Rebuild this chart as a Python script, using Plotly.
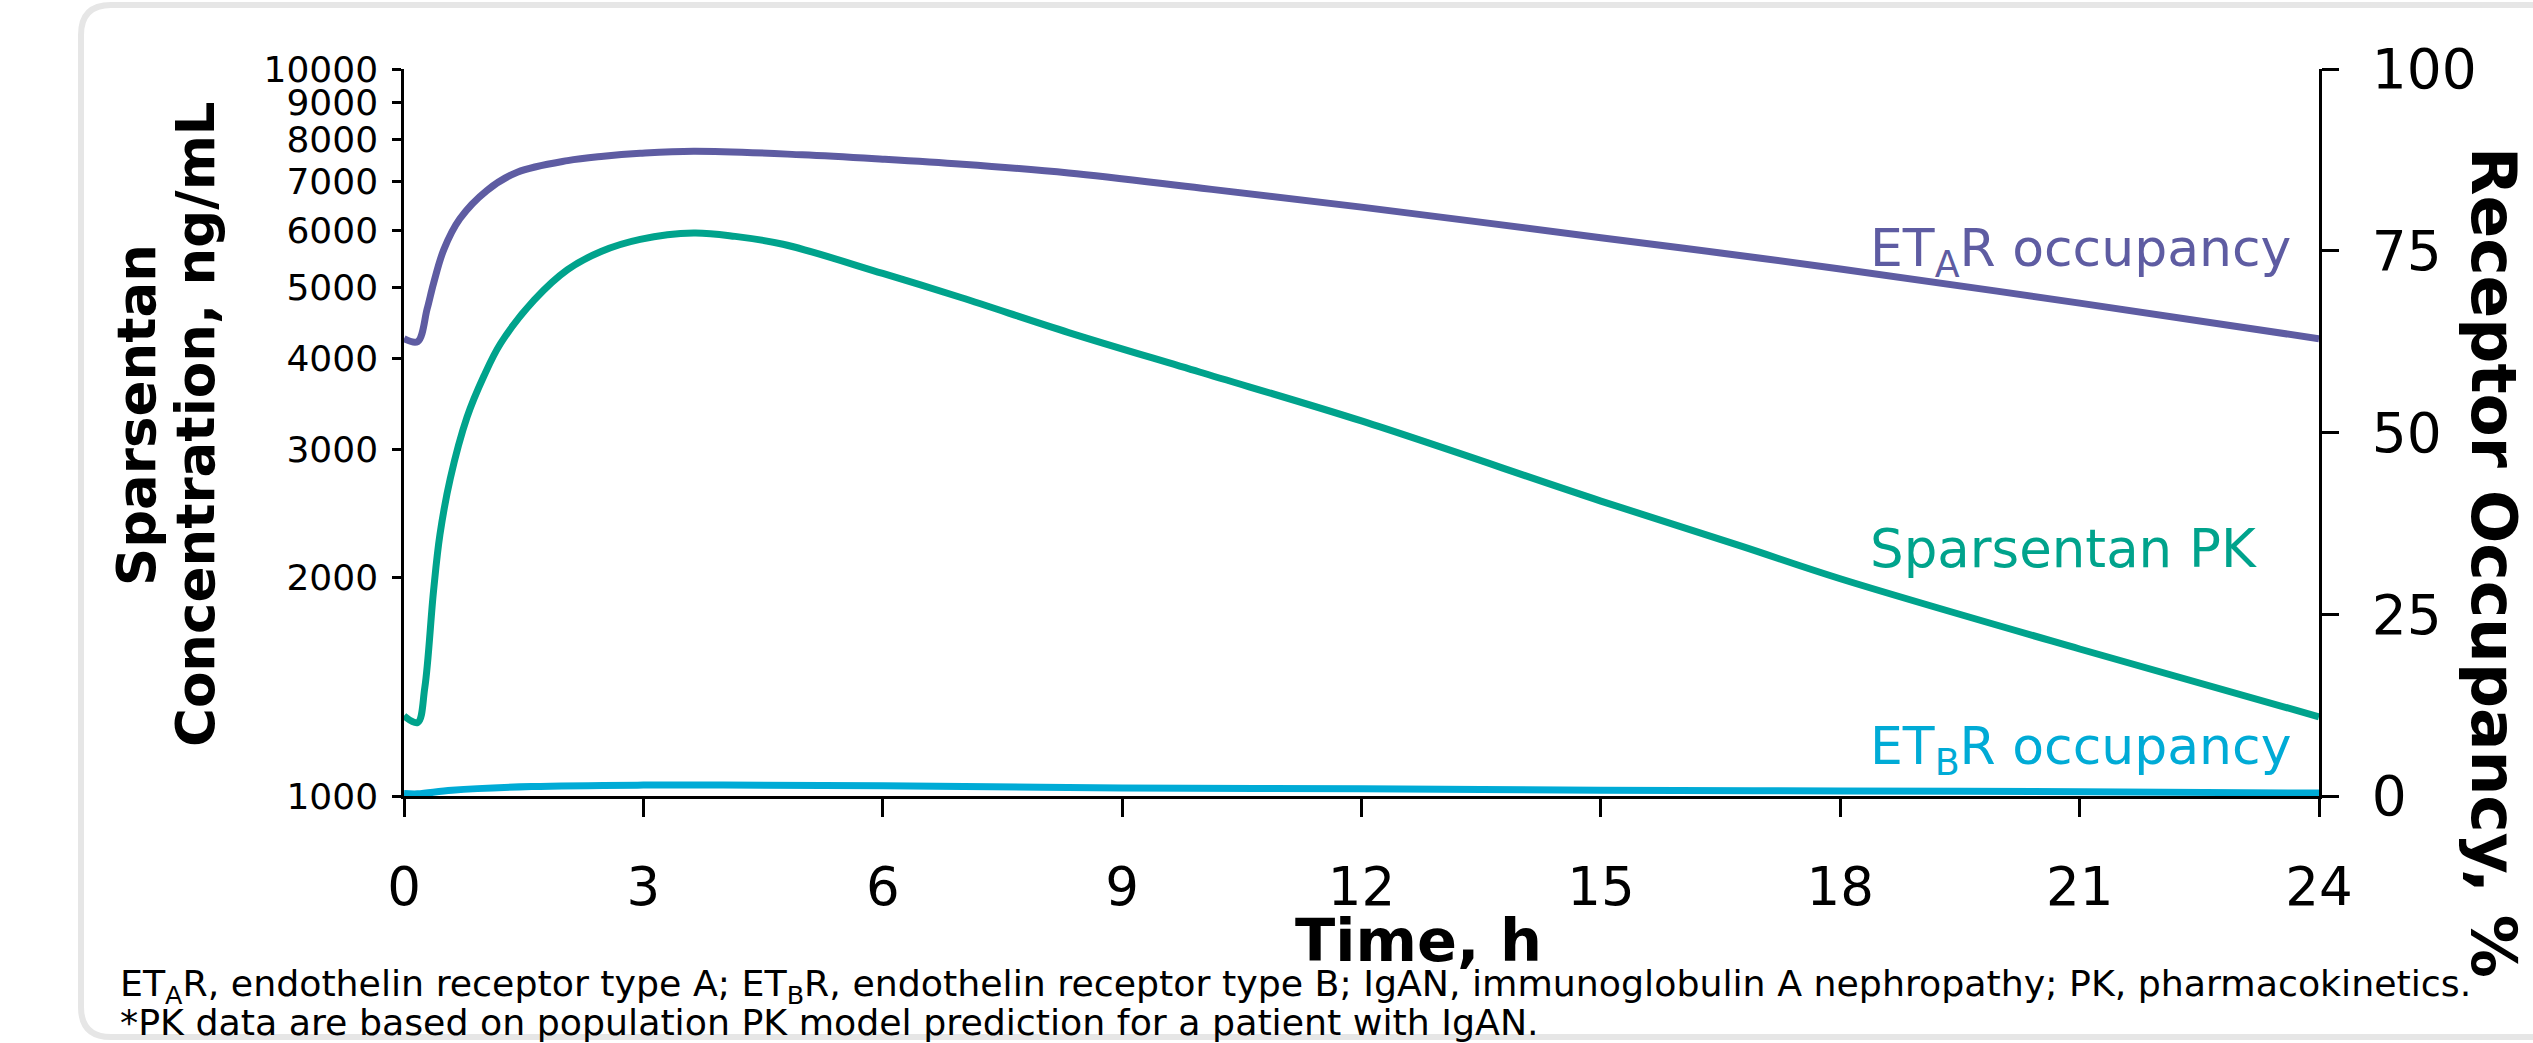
import plotly.graph_objects as go

# ---------------- data ----------------
time_pk = [0, 0.17, 0.26, 0.37, 0.45, 0.58, 0.79, 1.0, 1.21, 1.63, 2.05, 2.47, 2.96,
           3.63, 4.15, 4.75, 6.0, 6.98, 8.33, 9.97, 12, 15, 16.74, 18, 21, 24]
pk_conc = [1289, 1262, 1408, 1914, 2287, 2733, 3319, 3778, 4192, 4808, 5297, 5610, 5829,
           5948, 5885, 5741, 5233, 4849, 4340, 3830, 3280, 2545, 2210, 1990, 1593, 1285]

time_etar = [0, 0.17, 0.29, 0.37, 0.5, 0.7, 1.04, 1.42, 2.05, 2.5, 2.96, 3.63, 4.99, 6.0,
             7.0, 8.33, 10.0, 12, 15, 16.5, 18, 21, 24]
etar_occ = [62.9, 62.5, 67.0, 70.5, 75.2, 79.4, 83.3, 85.8, 87.4, 88.0, 88.4, 88.7, 88.2, 87.6,
            86.9, 85.7, 83.6, 81.0, 76.8, 74.7, 72.5, 67.8, 62.9]

time_etbr = [0, 0.17, 0.6, 1.6, 3.0, 4.0, 6.0, 9.0, 12, 15, 18, 21, 24]
etbr_occ = [0.35, 0.3, 0.8, 1.3, 1.5, 1.5, 1.4, 1.1, 1.0, 0.8, 0.7, 0.6, 0.4]

x_ticks = [0, 3, 6, 9, 12, 15, 18, 21, 24]
conc_ticks = [1000, 2000, 3000, 4000, 5000, 6000, 7000, 8000, 9000, 10000]
conc_ticktext = ["1000", "2000", "3000", "4000", "5000", "6000", "7000", "8000", "9000", "10000"]
occ_ticks = [0, 25, 50, 75, 100]

label_etar = "ET<sub>A</sub>R occupancy"
label_pk = "Sparsentan PK"
label_etbr = "ET<sub>B</sub>R occupancy"
footnote_1 = ("ET<sub>A</sub>R, endothelin receptor type A; ET<sub>B</sub>R, endothelin receptor type B; "
              "IgAN, immunoglobulin A nephropathy; PK, pharmacokinetics.")
footnote_2 = "*PK data are based on population PK model prediction for a patient with IgAN."

# ---------------- style ----------------
FONT = "DejaVu Sans"
C_ETAR = "#5E5CA2"
C_PK = "#00A38C"
C_ETBR = "#00ABD6"
W, H = 2533, 1043
L, R, T, B = 404, 214, 69, 247
PW, PH = W - L - R, H - T - B


def px(xp):
    return (xp - L) / PW


def py(yp):
    return (H - B - yp) / PH


LW = 7
fig = go.Figure()
fig.add_trace(go.Scatter(x=time_pk, y=pk_conc, mode="lines", yaxis="y",
                         line=dict(color=C_PK, width=LW, shape="spline", smoothing=1.0),
                         showlegend=False, hoverinfo="skip"))
fig.add_trace(go.Scatter(x=time_etar, y=etar_occ, mode="lines", yaxis="y2",
                         line=dict(color=C_ETAR, width=LW, shape="spline", smoothing=1.0),
                         showlegend=False, hoverinfo="skip"))
fig.add_trace(go.Scatter(x=time_etbr, y=etbr_occ, mode="lines", yaxis="y2",
                         line=dict(color=C_ETBR, width=LW, shape="spline", smoothing=1.0),
                         showlegend=False, hoverinfo="skip"))

axis_common = dict(showgrid=False, zeroline=False, showline=True, linecolor="black",
                   linewidth=2.5, ticks="outside", tickcolor="black", tickwidth=2.5)

fig.update_layout(
    width=W, height=H,
    margin=dict(l=L, r=R, t=T, b=B, autoexpand=False),
    paper_bgcolor="white", plot_bgcolor="white",
    font=dict(family=FONT, color="black"),
    xaxis=dict(range=[0, 24], tickvals=x_ticks, ticklen=18,
               tickfont=dict(size=53, family=FONT), ticklabelstandoff=25,
               **axis_common),
    yaxis=dict(type="log", range=[3, 4], tickvals=conc_ticks, ticktext=conc_ticktext,
               ticklen=9, tickfont=dict(size=36, family=FONT), ticklabelstandoff=7,
               **axis_common),
    yaxis2=dict(overlaying="y", side="right", range=[0, 100], tickvals=occ_ticks,
                ticklen=17, tickfont=dict(size=55, family=FONT), ticklabelstandoff=22,
                **axis_common),
)

# rounded frame around the figure
fl, ft, fb, fr, rad = 81, 5, 1037, 2600, 30
frame_path = (f"M {px(fr)} {py(ft)} L {px(fl + rad)} {py(ft)} "
              f"Q {px(fl)} {py(ft)} {px(fl)} {py(ft + rad)} "
              f"L {px(fl)} {py(fb - rad)} "
              f"Q {px(fl)} {py(fb)} {px(fl + rad)} {py(fb)} "
              f"L {px(fr)} {py(fb)}")
fig.add_shape(type="path", xref="paper", yref="paper", path=frame_path,
              line=dict(color="#E6E6E6", width=6), layer="below")

ann = []
# series labels
ann.append(dict(text=label_etar, x=px(1868), y=py(252), xanchor="left", yanchor="middle",
                font=dict(size=52, color=C_ETAR, family=FONT)))
ann.append(dict(text=label_pk, x=px(1868), y=py(548), xanchor="left", yanchor="middle",
                font=dict(size=53, color=C_PK, family=FONT)))
ann.append(dict(text=label_etbr, x=px(1868), y=py(750), xanchor="left", yanchor="middle",
                font=dict(size=52, color=C_ETBR, family=FONT)))
# axis titles
ann.append(dict(text="<b>Sparsentan</b>", x=px(136), y=py(415), textangle=-90,
                xanchor="center", yanchor="middle", font=dict(size=53, family=FONT)))
ann.append(dict(text="<b>Concentration, ng/mL</b>", x=px(195), y=py(424), textangle=-90,
                xanchor="center", yanchor="middle", font=dict(size=53, family=FONT)))
ann.append(dict(text="<b>Receptor Occupancy, %</b>", x=px(2494), y=py(562), textangle=90,
                xanchor="center", yanchor="middle", font=dict(size=63, family=FONT)))
ann.append(dict(text="<b>Time, h</b>", x=px(1418), y=py(940), xanchor="center",
                yanchor="middle", font=dict(size=59, family=FONT)))
# footnotes
ann.append(dict(text=footnote_1, x=px(118), y=py(986), xanchor="left", yanchor="middle",
                font=dict(size=36.3, family=FONT)))
ann.append(dict(text=footnote_2, x=px(118), y=py(1022), xanchor="left", yanchor="middle",
                font=dict(size=36.3, family=FONT)))

for a in ann:
    a.update(xref="paper", yref="paper", showarrow=False)
fig.update_layout(annotations=ann)

fig.write_html("out.html", config={"displayModeBar": False},
               post_script="document.body.style.margin='0px';document.body.style.overflow='hidden';")
